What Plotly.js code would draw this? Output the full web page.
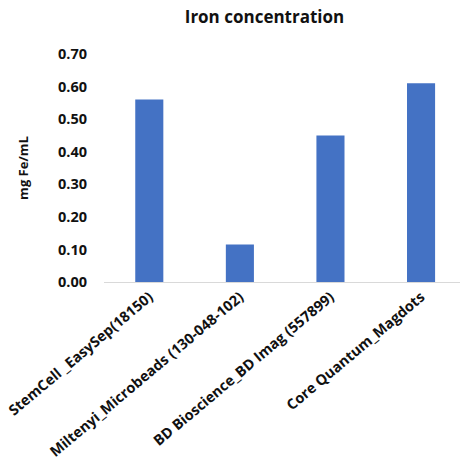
<!DOCTYPE html>
<html>
<head>
<meta charset="utf-8">
<script src="https://cdn.plot.ly/plotly-3.0.1.min.js"></script>
<style>html,body{margin:0;padding:0;background:#fff;}#chart{width:460px;height:472px;}</style>
</head>
<body>
<div id="chart"></div>
<script>
var categories = ["StemCell _EasySep(18150)", "Miltenyi_Microbeads (130-048-102)", "BD Bioscience_BD Imag (557899)", "Core Quantum_Magdots"];
var values = [0.56, 0.115, 0.45, 0.61];
var yTickVals = [0, 0.1, 0.2, 0.3, 0.4, 0.5, 0.6, 0.7];
var yTickText = ["0.00", "0.10", "0.20", "0.30", "0.40", "0.50", "0.60", "0.70"];

var font = "Open Sans, sans-serif";
var trace = {
  type: "bar",
  x: [0, 1, 2, 3],
  y: values,
  marker: {color: "#4472C4"},
  hoverinfo: "none"
};
var layout = {
  width: 460, height: 472,
  margin: {l: 104, r: 0, t: 54, b: 190},
  paper_bgcolor: "#fff", plot_bgcolor: "#fff",
  showlegend: false,
  bargap: 0.69,
  title: {text: "<b>Iron concentration</b>", font: {family: font, size: 17, color: "#111"},
          x: 0.575, xanchor: "center", xref: "container", y: 0.963, yanchor: "middle", yref: "container"},
  xaxis: {
    range: [-0.5, 3.43],
    tickmode: "array", tickvals: [0, 1, 2, 3],
    ticktext: categories.map(function(c){return "<b>" + c + "</b>";}),
    tickangle: -40,
    tickfont: {family: font, size: 14.5, color: "#111"},
    showgrid: false, zeroline: false,
    showline: true, linecolor: "#d9d9d9", linewidth: 1,
    ticks: "", ticklen: 0
  },
  yaxis: {
    range: [0, 0.7],
    tickmode: "array", tickvals: yTickVals,
    ticktext: yTickText.map(function(t){return "<b>" + t + "</b>";}),
    tickfont: {family: font, size: 14.5, color: "#111"},
    ticklabelstandoff: 16,
    showgrid: false, zeroline: false, showline: false,
    title: {text: "<b>mg Fe/mL</b>", font: {family: font, size: 13, color: "#111"}, standoff: 26}
  }
};
Plotly.newPlot("chart", [trace], layout, {displayModeBar: false, staticPlot: true});
</script>
</body>
</html>
